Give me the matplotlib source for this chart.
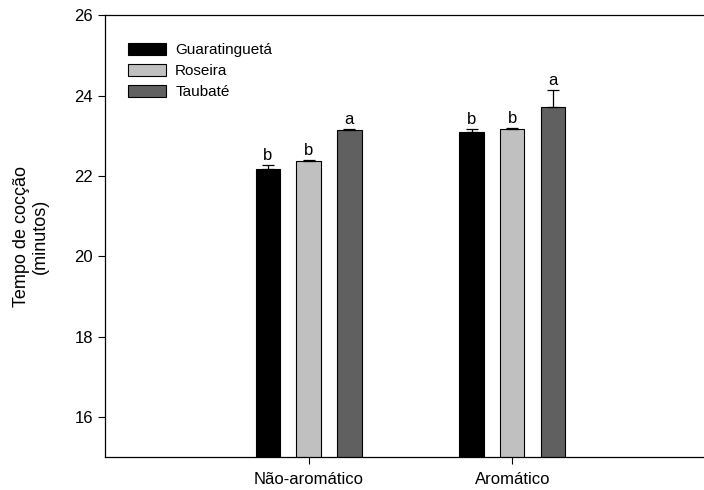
import numpy as np
import matplotlib
matplotlib.use('Agg')
import matplotlib.pyplot as plt

plt.rcParams['font.family'] = ['Liberation Sans', 'DejaVu Sans']

# data
grupos = ['Não-aromático', 'Aromático']
locais = ['Guaratinguetá', 'Roseira', 'Taubaté']
cores = ['#000000', '#c0c0c0', '#606060']
media = {'Guaratinguetá': [22.17, 23.10],
         'Roseira': [22.36, 23.17],
         'Taubaté': [23.15, 23.71]}
erro = {'Guaratinguetá': [0.10, 0.07],
        'Roseira': [0.03, 0.01],
        'Taubaté': [0.02, 0.42]}
letras = {'Guaratinguetá': ['b', 'b'],
          'Roseira': ['b', 'b'],
          'Taubaté': ['a', 'a']}

fig = plt.figure(figsize=(7.04, 4.90), dpi=100)
ax = fig.add_axes([0.149, 0.067, 0.868, 0.902])

x = np.arange(len(grupos))
w = 0.12
offs = [-0.2, 0.0, 0.2]
for k, loc in enumerate(locais):
    xx = x + offs[k]
    ax.bar(xx, media[loc], w, color=cores[k], edgecolor='black', linewidth=0.8,
           label=loc, zorder=2)
    ax.errorbar(xx, media[loc], yerr=[np.zeros(2), erro[loc]], fmt='none',
                ecolor='black', elinewidth=0.9, capsize=4, capthick=0.9, zorder=3)
    for i in range(len(grupos)):
        ax.annotate(letras[loc][i], (xx[i], media[loc][i] + erro[loc][i]),
                    xytext=(0, 1.5), textcoords='offset points',
                    ha='center', va='bottom', fontsize=12)

ax.set_xlim(-1, 2)
ax.set_ylim(15, 26)
ax.set_yticks([16, 18, 20, 22, 24, 26])
ax.set_xticks(x)
ax.set_xticklabels(grupos)
ax.tick_params(axis='both', direction='out', length=5, width=0.8, labelsize=12)
ax.tick_params(axis='x', pad=6)
ax.spines['right'].set_visible(False)
for s in ['left', 'bottom', 'top']:
    ax.spines[s].set_linewidth(0.9)
ax.set_ylabel('Tempo de cocção\n(minutos)', fontsize=13, labelpad=18)

leg = ax.legend(loc='upper left', bbox_to_anchor=(0.015, 0.968), frameon=False,
                fontsize=11, handlelength=2.5, handleheight=0.8,
                labelspacing=0.45, handletextpad=0.6)

fig.savefig('out.png', dpi=100)
